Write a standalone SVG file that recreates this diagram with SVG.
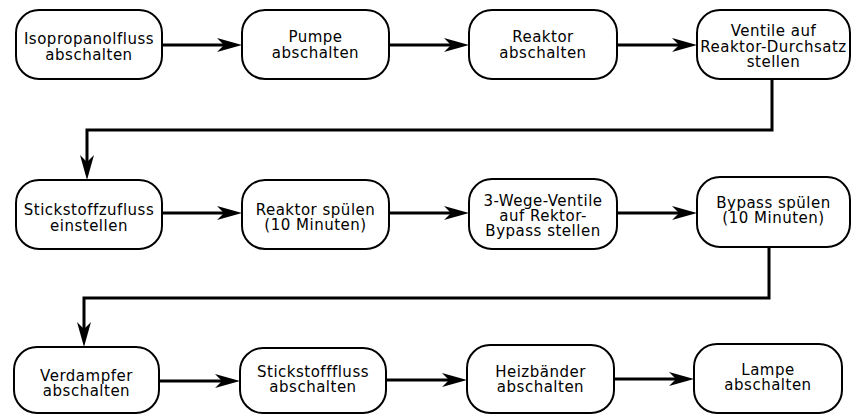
<svg xmlns="http://www.w3.org/2000/svg" width="853" height="414" viewBox="0 0 853 414">
<defs>
<style>
.box{fill:#fff;stroke:#000;stroke-width:2}
.lbl{font-family:"DejaVu Sans","Liberation Sans",sans-serif;font-size:15px;letter-spacing:0.5px;fill:#000;text-anchor:middle}
.c{fill:none;stroke:#000;stroke-width:3}
</style>
<marker id="ah" markerUnits="userSpaceOnUse" markerWidth="25" markerHeight="14" viewBox="0 0 25 14" refX="7" refY="7" orient="auto">
<path d="M0,0 L25,7 L0,14 L7,7 Z" fill="#000"/>
</marker>
</defs>
<rect width="853" height="414" fill="#fff"/>
<g id="connectors">
<line class="c" x1="162" y1="45" x2="224" y2="45" marker-end="url(#ah)"/>
<line class="c" x1="389" y1="45" x2="451" y2="45" marker-end="url(#ah)"/>
<line class="c" x1="617" y1="45" x2="679" y2="45" marker-end="url(#ah)"/>
<path class="c" d="M772,79 V130 H87 V162" marker-end="url(#ah)"/>
<line class="c" x1="162" y1="213" x2="224" y2="213" marker-end="url(#ah)"/>
<line class="c" x1="389" y1="213" x2="451" y2="213" marker-end="url(#ah)"/>
<line class="c" x1="617" y1="213" x2="679" y2="213" marker-end="url(#ah)"/>
<path class="c" d="M769,247 V298 H84 V329" marker-end="url(#ah)"/>
<line class="c" x1="159" y1="381" x2="222" y2="381" marker-end="url(#ah)"/>
<line class="c" x1="386" y1="380" x2="449" y2="380" marker-end="url(#ah)"/>
<line class="c" x1="614" y1="379" x2="676" y2="379" marker-end="url(#ah)"/>
</g>
<g id="n1"><rect class="box" x="16" y="10" width="146" height="69" rx="23"/><text class="lbl"><tspan x="89" y="44">Isopropanolfluss</tspan><tspan x="89" y="59.5">abschalten</tspan></text></g>
<g id="n2"><rect class="box" x="242" y="10" width="147" height="69" rx="23"/><text class="lbl"><tspan x="315.5" y="42">Pumpe</tspan><tspan x="315.5" y="57.5">abschalten</tspan></text></g>
<g id="n3"><rect class="box" x="469" y="10" width="148" height="69" rx="23"/><text class="lbl"><tspan x="543" y="42">Reaktor</tspan><tspan x="543" y="57.5">abschalten</tspan></text></g>
<g id="n4"><rect class="box" x="697" y="10" width="153" height="69" rx="23"/><text class="lbl"><tspan x="773.5" y="36">Ventile auf</tspan><tspan x="773.5" y="51.5">Reaktor-Durchsatz</tspan><tspan x="773.5" y="67">stellen</tspan></text></g>
<g id="n5"><rect class="box" x="16" y="180" width="146" height="69" rx="23"/><text class="lbl"><tspan x="89" y="215">Stickstoffzufluss</tspan><tspan x="89" y="230.5">einstellen</tspan></text></g>
<g id="n6"><rect class="box" x="242" y="180" width="147" height="69" rx="23"/><text class="lbl"><tspan x="315.5" y="215">Reaktor spülen</tspan><tspan x="315.5" y="230">(10 Minuten)</tspan></text></g>
<g id="n7"><rect class="box" x="469" y="179" width="148" height="70" rx="23"/><text class="lbl"><tspan x="543" y="206">3-Wege-Ventile</tspan><tspan x="543" y="221">auf Rektor-</tspan><tspan x="543" y="236">Bypass stellen</tspan></text></g>
<g id="n8"><rect class="box" x="697" y="177" width="153" height="70" rx="23"/><text class="lbl"><tspan x="773.5" y="208">Bypass spülen</tspan><tspan x="773.5" y="223">(10 Minuten)</tspan></text></g>
<g id="n9"><rect class="box" x="14" y="347" width="145" height="66" rx="23"/><text class="lbl"><tspan x="86.5" y="381">Verdampfer</tspan><tspan x="86.5" y="396">abschalten</tspan></text></g>
<g id="n10"><rect class="box" x="240" y="348" width="146" height="65" rx="23"/><text class="lbl"><tspan x="313" y="377">Stickstofffluss</tspan><tspan x="313" y="392">abschalten</tspan></text></g>
<g id="n11"><rect class="box" x="467" y="345" width="147" height="68" rx="23"/><text class="lbl"><tspan x="540.5" y="377">Heizbänder</tspan><tspan x="540.5" y="392">abschalten</tspan></text></g>
<g id="n12"><rect class="box" x="694" y="344" width="148" height="69" rx="23"/><text class="lbl"><tspan x="768" y="375">Lampe</tspan><tspan x="768" y="390">abschalten</tspan></text></g>
</svg>
